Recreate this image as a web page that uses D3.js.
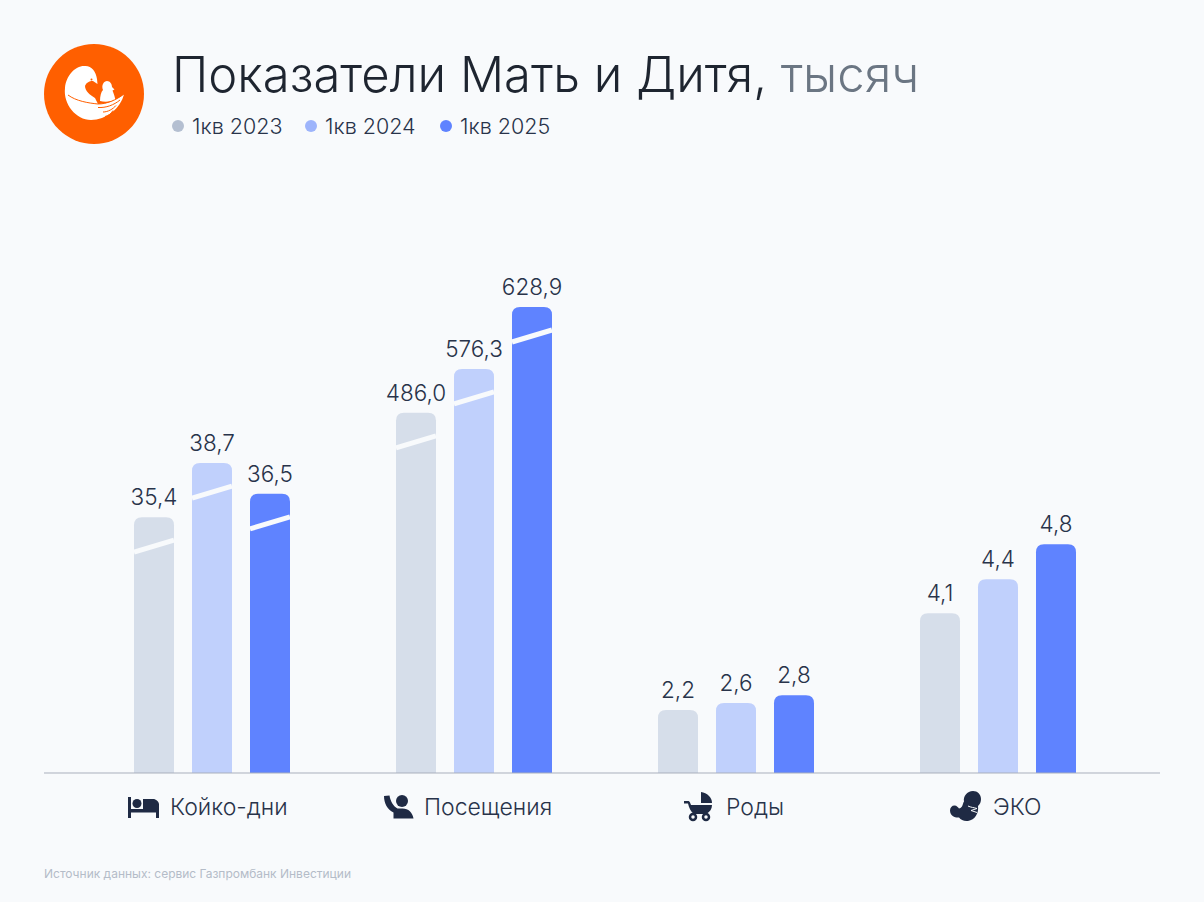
<!DOCTYPE html>
<html>
<head>
<meta charset="utf-8">
<script src="https://cdn.jsdelivr.net/npm/d3@7"></script>
<style>
    html, body { margin: 0; padding: 0; background: #f8fafc; }
    svg { display: block; font-family: Inter, "Noto Sans", sans-serif; }
</style>
</head>
<body>
<div id="chart"></div>
<script>
(function () {
    var width = 1204;
    var height = 902;

    var categories = ['Койко-дни', 'Посещения', 'Роды', 'ЭКО'];
    var series = ['1кв 2023', '1кв 2024', '1кв 2025'];
    var barLabels = [
        ['35,4', '38,7', '36,5'],
        ['486,0', '576,3', '628,9'],
        ['2,2', '2,6', '2,8'],
        ['4,1', '4,4', '4,8']
    ];
    // the picture is not to one scale: these are bar lengths read off it, tallest bar = 100
    var barLevels = [
        [54.9, 66.5, 59.9],
        [77.3, 86.7, 100],
        [13.5, 15.0, 16.7],
        [34.3, 41.6, 49.1]
    ];
    // groups whose bars carry the white "axis break" slash
    var brokenCategories = ['Койко-дни', 'Посещения'];

    var barColors = ['#d6deea', '#c0d0fc', '#5f83ff'];
    var dotColors = ['#b4bfd1', '#9db4fb', '#5f83ff'];
    var ink = '#28334a';

    var baseline = 773;
    var barWidth = 40;

    var x0 = d3.scalePoint().domain(categories).range([212, 998]);
    var x1 = d3.scalePoint().domain(series).range([-58, 58]);
    var y = d3.scaleLinear().domain([0, 100]).range([baseline, 307]);

    var svg = d3.select('#chart').append('svg')
        .attr('width', width)
        .attr('height', height)
        .attr('viewBox', '0 0 ' + width + ' ' + height);

    svg.append('rect').attr('width', width).attr('height', height).attr('fill', '#f8fafc');

    // Logo
    var logo = svg.append('g');
    logo.append('circle').attr('cx', 94).attr('cy', 94).attr('r', 50).attr('fill', '#ff5f00');
    logo.append('path').attr('fill', '#fff')
        .attr('d', 'M65 88C66 76 75 66 84 66C91 65 96 71 97 79L97.5 84L93 81C89 81 86 83 85 86C85 91 90 95 95 98L98 104C108 104 117 100 124 94C121 108 106 120 91 120C76 120 63 104 65 88Z');
    logo.append('path').attr('fill', '#fff')
        .attr('d', 'M100 101C100 96 101 92 103 90C101 85 104 81 107 81C110 81 112 84 112 87L114.500 89.500L112.500 90.500C114 94 115 98 115.500 100C110 102 104 102 100 101Z');
    logo.append('circle').attr('cx', 91.5).attr('cy', 79.5).attr('r', 1).attr('fill', '#ff5f00');
    logo.selectAll('path.nest')
        .data([
            'M68 95C76 101 88 103 98 104C107 104 116 100 124 94',
            'M98 107.500C106 108 114 105 120 100',
            'M103 112C108 112 113 109 116 105.500',
            'M105 116.500C108 116 111 114 113 110.500'
        ])
        .join('path')
        .attr('class', 'nest')
        .attr('d', function (d) { return d; })
        .attr('fill', 'none')
        .attr('stroke', '#ff5f00')
        .attr('stroke-width', 1);

    // Title
    var title = svg.append('text')
        .attr('x', 172)
        .attr('y', 92)
        .attr('font-size', 49)
        .attr('font-weight', 300)
        .attr('fill', '#1e2530');
    title.append('tspan').text('Показатели Мать и Дитя, ');
    title.append('tspan').attr('fill', '#6b7683').text('тысяч');

    // Legend
    var legendX = [178, 311, 446];
    var legend = svg.append('g').selectAll('g')
        .data(series)
        .join('g')
        .attr('transform', function (d, i) { return 'translate(' + legendX[i] + ',126)'; });
    legend.append('circle')
        .attr('r', 6)
        .attr('fill', function (d, i) { return dotColors[i]; });
    legend.append('text')
        .attr('x', 14)
        .attr('y', 8)
        .attr('font-size', 21.5)
        .attr('font-weight', 300)
        .attr('fill', ink)
        .text(function (d) { return d; });

    // Bars
    var group = svg.append('g').selectAll('g')
        .data(categories)
        .join('g')
        .attr('transform', function (d) { return 'translate(' + x0(d) + ',0)'; });

    function barPath(level) {
        var r = 8;
        var hw = barWidth / 2;
        var top = y(level);
        return 'M' + (-hw) + ',' + baseline + 'V' + (top + r) +
            'Q' + (-hw) + ',' + top + ' ' + (-hw + r) + ',' + top +
            'H' + (hw - r) +
            'Q' + hw + ',' + top + ' ' + hw + ',' + (top + r) +
            'V' + baseline + 'Z';
    }

    group.each(function (cat, c) {
        var g = d3.select(this);
        var bars = g.selectAll('g')
            .data(series)
            .join('g')
            .attr('transform', function (s) { return 'translate(' + x1(s) + ',0)'; });

        bars.append('path')
            .attr('d', function (s, i) { return barPath(barLevels[c][i]); })
            .attr('fill', function (s, i) { return barColors[i]; });

        if (brokenCategories.indexOf(cat) >= 0) {
            bars.append('line')
                .attr('x1', -barWidth / 2)
                .attr('x2', barWidth / 2)
                .attr('y1', function (s, i) { return y(barLevels[c][i]) + 35; })
                .attr('y2', function (s, i) { return y(barLevels[c][i]) + 23; })
                .attr('stroke', '#f8fafc')
                .attr('stroke-width', 5);
        }

        bars.append('text')
            .attr('y', function (s, i) { return y(barLevels[c][i]) - 12; })
            .attr('text-anchor', 'middle')
            .attr('font-size', 22.5)
            .attr('font-weight', 300)
            .attr('fill', ink)
            .text(function (s, i) { return barLabels[c][i]; });
    });

    // Axis line
    svg.append('line')
        .attr('x1', 44).attr('x2', 1160)
        .attr('y1', baseline).attr('y2', baseline)
        .attr('stroke', '#a9afbc')
        .attr('stroke-width', 1);

    // Category labels
    var labelX = [170, 424, 726, 993];
    svg.append('g').selectAll('text')
        .data(categories)
        .join('text')
        .attr('x', function (d, i) { return labelX[i]; })
        .attr('y', 815)
        .attr('font-size', 23)
        .attr('font-weight', 300)
        .attr('fill', ink)
        .text(function (d) { return d; });

    // Category icons
    var iconColor = '#1f2a44';
    var icons = svg.append('g').attr('fill', iconColor);
    // bed
    icons.append('path').attr('d', 'M128 797h3v12h25v-5h3v14h-3v-5.500h-25v5.500h-3z');
    icons.append('circle').attr('cx', 137).attr('cy', 803.500).attr('r', 4.5);
    icons.append('path').attr('d', 'M143 799h10c3 0 6 2.500 6 5.500v4.500h-16z');
    // person waving
    icons.append('circle').attr('cx', 402).attr('cy', 801).attr('r', 6);
    icons.append('path').attr('d', 'M384 796l5.500 -.5c1 6 4 11 8 13h5c6 0 10 4 11 10h-20v-6c-6 -3 -9.500 -9 -9.500 -16.500z');
    // stroller
    icons.append('path').attr('d', 'M701 792c6 1 11 5 11 11h-11z');
    icons.append('path').attr('d', 'M684 801h4c1 0 1.500 .5 2 1.500l1 2.500h21c0 4 -2 7 -6 9h-12c-3 -2 -5 -6 -6 -10.500h-4z');
    icons.selectAll('circle.wheel')
        .data([693, 706])
        .join('circle')
        .attr('class', 'wheel')
        .attr('cx', function (d) { return d; })
        .attr('cy', 817)
        .attr('r', 3)
        .attr('fill', 'none')
        .attr('stroke', iconColor)
        .attr('stroke-width', 2.5);
    // fetus
    icons.append('path').attr('d', 'M973 791c4.500 0 8 3.500 8 8c0 3 -1 5 -3 7c1 7 -3 14 -10 15c-4 .5 -7 -1 -9 -3.500c-3 .5 -9 -1 -9 -7c0 -3 2 -5 4.500 -5c2.500 0 3.500 2 4.500 3c1 0 2 -1 3 -2c1 -2 1 -4 2 -5c-1 -5 3 -10.500 9 -10.500z');
    icons.append('path')
        .attr('d', 'M968 806c3 1.500 6 1.500 9 2.500c-2 1 -4 1 -6 2c2 1 4 1 6 2')
        .attr('fill', 'none')
        .attr('stroke', '#f8fafc')
        .attr('stroke-width', 1);

    // Source
    svg.append('text')
        .attr('x', 44)
        .attr('y', 878)
        .attr('font-size', 12)
        .attr('fill', '#b4bcc8')
        .text('Источник данных: сервис Газпромбанк Инвестиции');
})();
</script>
</body>
</html>
